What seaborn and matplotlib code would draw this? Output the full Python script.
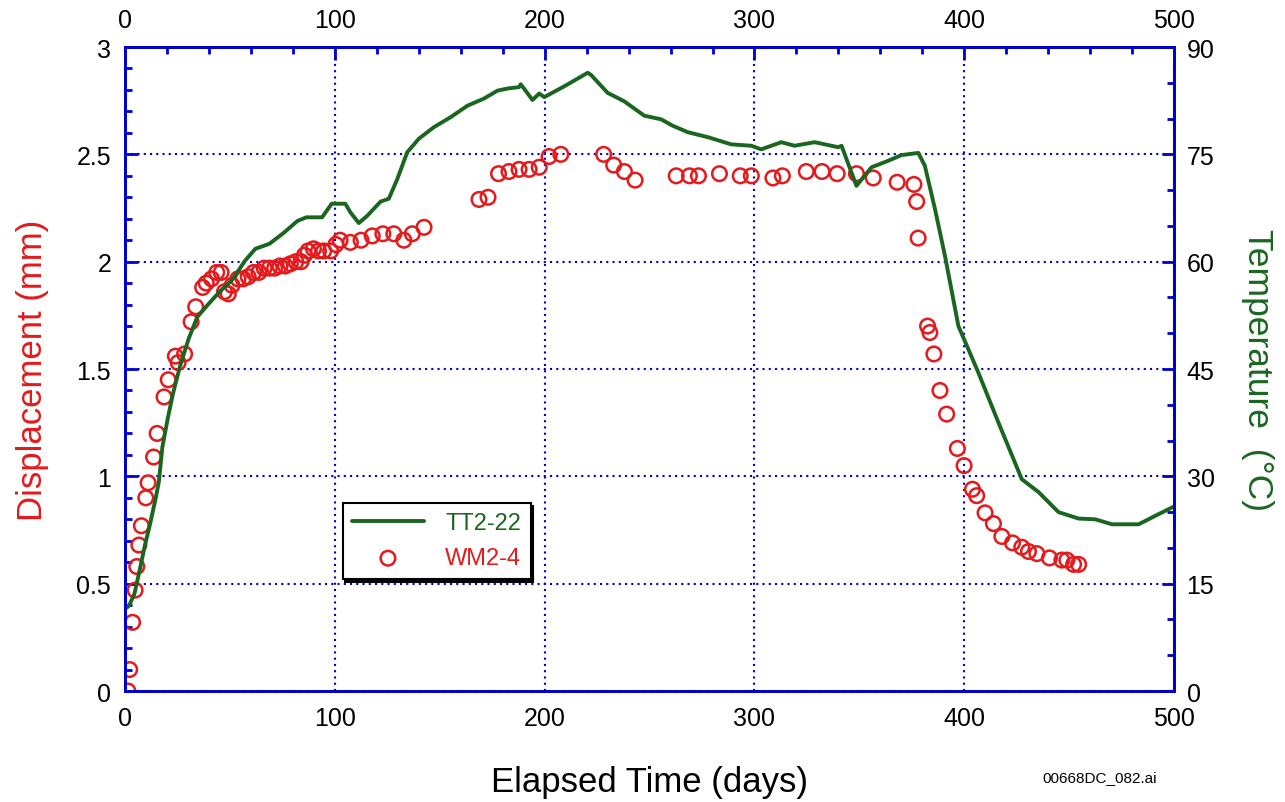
"""
Displacement (WM2-4) and temperature (TT2-22) against elapsed time
"""

import numpy as np
import pandas as pd
import matplotlib
matplotlib.use('Agg')
import matplotlib.pyplot as plt
import seaborn as sns
from matplotlib.ticker import MultipleLocator, FuncFormatter

# WM2-4 displacement readings (days, mm)
wm_days = [1.4, 2.2, 3.6, 4.8, 5.6, 6.6, 7.8, 9.9, 11.0, 13.6, 15.3, 18.6, 20.6, 24.0, 25.3,
           28.4, 31.5, 33.7, 37.0, 38.7, 41.2, 43.7, 45.8, 47.4, 49.2, 51.0, 53.8, 56.3, 58.7,
           61.3, 63.8, 66.3, 68.8, 71.3, 73.8, 76.4, 78.8, 81.4, 83.9, 85.5, 87.2, 89.8, 92.2,
           94.7, 98.0, 100.5, 102.5, 107.4, 112.5, 117.8, 122.9, 128.1, 132.9, 136.9, 142.5,
           168.7, 173.0, 178.0, 183.0, 187.8, 192.6, 197.4, 202.1, 207.7, 228.1, 232.9, 238.0,
           243.1, 262.7, 269.0, 273.3, 283.3, 293.2, 298.5, 308.8, 313.3, 324.7, 332.2, 339.4,
           348.6, 356.6, 368.0, 376.0, 377.3, 378.0, 382.5, 383.6, 385.5, 388.4, 391.6, 396.7,
           399.9, 403.9, 405.9, 409.9, 413.9, 417.9, 423.0, 427.4, 430.6, 434.6, 440.6, 446.5,
           448.9, 452.1, 454.5]
wm_disp = [0.00, 0.10, 0.32, 0.47, 0.58, 0.68, 0.77, 0.90, 0.97, 1.09, 1.20, 1.37, 1.45, 1.56, 1.53,
           1.57, 1.72, 1.79, 1.88, 1.90, 1.92, 1.95, 1.95, 1.86, 1.85, 1.89, 1.92, 1.92, 1.93,
           1.95, 1.95, 1.97, 1.97, 1.97, 1.98, 1.98, 1.99, 2.00, 2.00, 2.03, 2.05, 2.06, 2.05,
           2.05, 2.05, 2.08, 2.10, 2.09, 2.10, 2.12, 2.13, 2.13, 2.10, 2.13, 2.16,
           2.29, 2.30, 2.41, 2.42, 2.43, 2.43, 2.44, 2.49, 2.50, 2.50, 2.45, 2.42,
           2.38, 2.40, 2.40, 2.40, 2.41, 2.40, 2.40, 2.39, 2.40, 2.42, 2.42, 2.41,
           2.41, 2.39, 2.37, 2.36, 2.28, 2.11, 1.70, 1.67, 1.57, 1.40, 1.29, 1.13,
           1.05, 0.94, 0.91, 0.83, 0.78, 0.72, 0.69, 0.67, 0.65, 0.64, 0.62, 0.61,
           0.61, 0.59, 0.59]

# TT2-22 temperature trace (days, deg C)
tt_days = [0.5, 1.9, 4.5, 6.9, 9.5, 11.9, 14.5, 16.1, 17.8, 20.3, 22.8, 26.2, 30.4, 34.5, 39.5,
           45.4, 51.2, 57.1, 62.1, 68.8, 75.5, 82.2, 86.4, 93.9, 98.5, 105.0, 107.4, 111.4,
           115.4, 121.8, 125.7, 129.7, 134.5, 140.1, 147.2, 155.2, 163.2, 171.1, 177.5, 182.3,
           187.8, 188.6, 194.2, 197.4, 199.8, 209.3, 220.5, 222.1, 230.0, 238.0, 247.5, 255.5,
           261.0, 268.2, 277.8, 288.9, 298.5, 303.2, 312.8, 319.1, 328.7, 339.9, 341.5, 348.6,
           355.8, 363.7, 370.1, 378.1, 381.2, 386.0, 390.8, 397.2, 406.7, 416.3, 427.4, 435.4,
           444.9, 454.5, 462.4, 470.4, 483.1, 491.1, 500.0]
tt_temp = [11.6, 11.9, 13.6, 16.8, 20.4, 23.3, 26.8, 29.2, 34.1, 38.0, 41.5, 45.4, 49.3, 52.3, 54.0,
           55.9, 57.5, 60.1, 61.8, 62.5, 64.0, 65.7, 66.2, 66.2, 68.1, 68.1, 66.9, 65.4,
           66.4, 68.4, 68.8, 71.5, 75.3, 77.2, 78.8, 80.2, 81.8, 82.8, 83.9, 84.2,
           84.4, 84.8, 82.6, 83.5, 83.0, 84.5, 86.4, 86.1, 83.6, 82.4, 80.4, 79.9,
           79.0, 78.1, 77.4, 76.4, 76.2, 75.7, 76.7, 76.2, 76.7, 76.0, 76.2, 70.6,
           73.2, 74.1, 74.9, 75.2, 73.4, 67.4, 60.8, 51.0, 44.5, 37.5, 29.6, 27.8,
           25.0, 24.1, 24.0, 23.3, 23.3, 24.5, 25.8]

RED = '#e41a1c'
GREEN = '#1a6620'
BLUE = '#0000cc'

sns.set_style('white', {'text.color': 'black', 'axes.labelcolor': 'black',
                        'xtick.color': 'black', 'ytick.color': 'black'})
plt.rcParams['font.family'] = ['Liberation Sans', 'DejaVu Sans']

wm = pd.DataFrame({'day': wm_days, 'disp': wm_disp})
tt = pd.DataFrame({'day': tt_days, 'temp': tt_temp})

fig = plt.figure(figsize=(12.85, 8.03), dpi=100)
ax = fig.add_axes([0.0973, 0.1382, 0.8164, 0.802])
ax2 = ax.twinx()

sns.scatterplot(data=wm, x='day', y='disp', ax=ax, marker='o', s=110,
                facecolors='none', edgecolor=RED, linewidth=1.8, label='WM2-4', legend=False)
sns.lineplot(data=tt, x='day', y='temp', ax=ax2, color=GREEN, linewidth=2.8,
             label='TT2-22', legend=False, sort=False)

ax.set_xlim(0, 500)
ax.set_ylim(0, 3)
ax2.set_ylim(0, 90)

ax.xaxis.set_major_locator(MultipleLocator(100))
ax.xaxis.set_minor_locator(MultipleLocator(20))
ax.yaxis.set_major_locator(MultipleLocator(0.5))
ax.yaxis.set_minor_locator(MultipleLocator(0.1))
ax.yaxis.set_major_formatter(FuncFormatter(lambda v, p: f'{v:g}'))
ax2.yaxis.set_major_locator(MultipleLocator(15))
ax2.yaxis.set_minor_locator(MultipleLocator(5))

ax.grid(True, which='major', color=BLUE, linestyle=(0, (1, 2)), linewidth=1.5)

for a in (ax, ax2):
    for s in a.spines.values():
        s.set_color(BLUE)
        s.set_linewidth(2)

ax.tick_params(axis='both', which='both', direction='in', color=BLUE, labelcolor='black',
               labelsize=18, top=True, labeltop=True, width=2)
ax.tick_params(which='major', length=9)
ax.tick_params(which='minor', length=5)
ax.tick_params(axis='x', which='both', pad=11)
ax.tick_params(axis='y', which='both', pad=10)
ax2.tick_params(axis='y', which='both', direction='in', color=BLUE, labelcolor='black',
                labelsize=18, width=2, pad=9)
ax2.tick_params(which='major', length=9)
ax2.tick_params(which='minor', length=5)

ax.set_xlabel('Elapsed Time (days)', fontsize=25)
ax.xaxis.set_label_coords(0.5, -0.115)
ax.set_ylabel('Displacement (mm)', fontsize=25, color=RED)
ax.yaxis.set_label_coords(-0.072, 0.5)
ax2.set_ylabel('Temperature  (°C)', fontsize=25.5, color=GREEN, rotation=270, va='bottom')
ax2.yaxis.set_label_coords(1.064, 0.5)

handles = ax2.get_legend_handles_labels()[0] + ax.get_legend_handles_labels()[0]
labels = ['TT2-22', 'WM2-4']
leg = ax2.legend(handles, labels, loc='upper left', bbox_to_anchor=(0.2073, 0.292),
                 fontsize=17, frameon=True, fancybox=False, handlelength=3.05,
                 markerscale=1.0, labelcolor=[GREEN, RED], borderpad=0.4,
                 labelspacing=0.55, handletextpad=0.9, borderaxespad=0,
                 shadow={'color': 'black', 'alpha': 1})
leg.get_frame().set_edgecolor('black')
leg.get_frame().set_linewidth(1.5)

fig.text(0.856, 0.022, '00668DC_082.ai', fontsize=11, ha='center', va='bottom')

fig.savefig('out.png', dpi=100)
